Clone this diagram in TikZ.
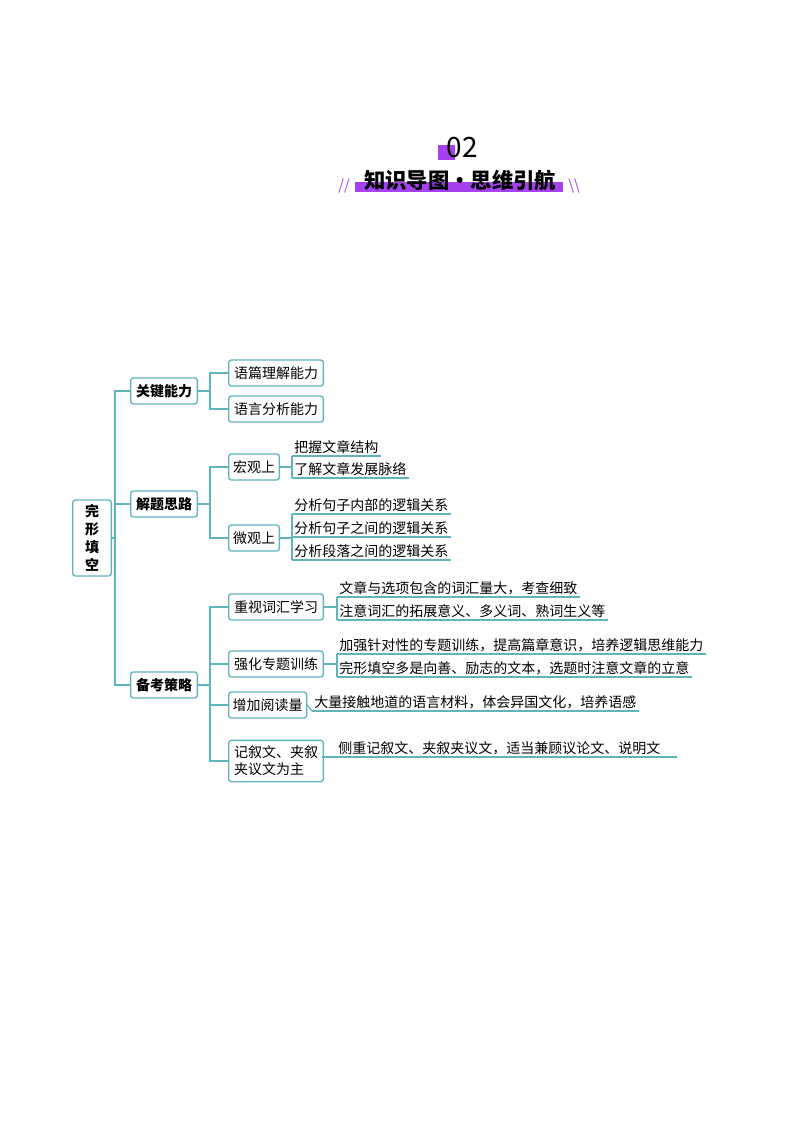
\documentclass[tikz,border=0pt]{standalone}
\usepackage{fontspec}
\setmainfont{Noto Sans CJK SC}
\newfontfamily\cjkb{Noto Sans CJK SC Bold}
\definecolor{tl}{RGB}{95,180,190}
\definecolor{pp}{RGB}{165,65,240}
\begin{document}
\begin{tikzpicture}[x=0.75pt,y=-0.75pt,
 box/.style={draw=tl,line width=1pt,rounded corners=2pt,font=\fontsize{10.5pt}{12pt}\selectfont,inner sep=3pt,minimum height=19.5pt,anchor=west},
 bbox/.style={box,font=\fontsize{10.5pt}{12pt}\selectfont\bfseries},
 ul/.style={anchor=south west,inner sep=1.5pt,font=\fontsize{10.5pt}{12pt}\selectfont},
 ln/.style={draw=tl,line width=1pt}]
\useasboundingbox (0,0) rectangle (800,1132);
% header
\fill[pp] (438,145) rectangle (455,160);
\node[font=\fontsize{21pt}{24pt}\selectfont] (num) at (462,148) {02};
\fill[pp] (355,182) rectangle (563,192);
\node[font=\fontsize{16pt}{18pt}\selectfont\bfseries] (ttl) at (460,180) {知识导图·思维引航};
\node[text=pp,font=\fontsize{11pt}{12pt}\selectfont\itshape] (sl) at (344,186) {//};
\node[text=pp,font=\fontsize{11pt}{12pt}\selectfont\itshape] (sr) at (574,186) {\textbackslash\textbackslash};
% root
\node[bbox,anchor=center,minimum width=29pt,minimum height=57pt,align=center,font=\fontsize{10.5pt}{13.5pt}\selectfont\bfseries] (root) at (92,538) {完\\形\\填\\空};
\node[bbox,minimum width=50pt] (k1) at (130,391) {关键能力};
\node[bbox,minimum width=50pt] (k2) at (130,504) {解题思路};
\node[bbox,minimum width=50pt] (k3) at (130,685) {备考策略};
\coordinate (t) at (115,538);
\draw[ln] (root.east) -- (t);
\foreach \n in {k1,k2,k3} \draw[ln] (t) |- (\n.west);
% level 2
\node[box,minimum width=71pt] (a1) at (228,373) {语篇理解能力};
\node[box,minimum width=71pt] (a2) at (228,409) {语言分析能力};
\node[box,minimum width=38pt] (b1) at (228,467) {宏观上};
\node[box,minimum width=38pt] (b2) at (228,538) {微观上};
\node[box,minimum width=71pt] (c1) at (228,607) {重视词汇学习};
\node[box,minimum width=71pt] (c2) at (228,664) {强化专题训练};
\node[box,minimum width=58pt] (c3) at (228,705) {增加阅读量};
\node[box,minimum width=71pt,align=left,font=\fontsize{10.5pt}{13pt}\selectfont,minimum height=31pt] (c4) at (228,761) {记叙文、夹叙\\夹议文为主};
\foreach \s/\n in {k1/a1,k1/a2,k2/b1,k2/b2,k3/c1,k3/c2,k3/c3,k3/c4}
 \draw[ln] (\s.east) -- ++(12,0) |- (\n.west);
% leaves
\node[ul] (d1) at (292,456) {把握文章结构};
\node[ul] (d2) at (292,478) {了解文章发展脉络};
\node[ul] (e1) at (292,514) {分析句子内部的逻辑关系};
\node[ul] (e2) at (292,537) {分析句子之间的逻辑关系};
\node[ul] (e3) at (292,560) {分析段落之间的逻辑关系};
\node[ul] (f1) at (337,597) {文章与选项包含的词汇量大，考查细致};
\node[ul] (f2) at (337,620) {注意词汇的拓展意义、多义词、熟词生义等};
\node[ul] (g1) at (337,654) {加强针对性的专题训练，提高篇章意识，培养逻辑思维能力};
\node[ul] (g2) at (337,677) {完形填空多是向善、励志的文本，选题时注意文章的立意};
\node[ul] (h1) at (312,711) {大量接触地道的语言材料，体会异国文化，培养语感};
\node[ul,inner xsep=12pt] (i1) at (322,757) {侧重记叙文、夹叙夹议文，适当兼顾议论文、说明文};
\foreach \n in {d1,d2,e1,e2,e3,f1,f2,g1,g2,h1,i1} \draw[ln] (\n.south west) -- (\n.south east);
\draw[ln] (b1.east) -- (d1.south west |- b1.east);
\draw[ln] (d1.south west) -- (d2.south west);
\draw[ln] (b2.east) -- (e1.south west |- b2.east);
\draw[ln] (e1.south west) -- (e3.south west);
\draw[ln] (c1.east) -- (f1.south west |- c1.east);
\draw[ln] (f1.south west) -- (f2.south west);
\draw[ln] (c2.east) -- (g1.south west |- c2.east);
\draw[ln] (g1.south west) -- (g2.south west);
\draw[ln] (c3.east) -- (h1.south west);
\draw[ln] (c4.east |- i1.south west) -- (i1.south west);
\end{tikzpicture}
\end{document}
